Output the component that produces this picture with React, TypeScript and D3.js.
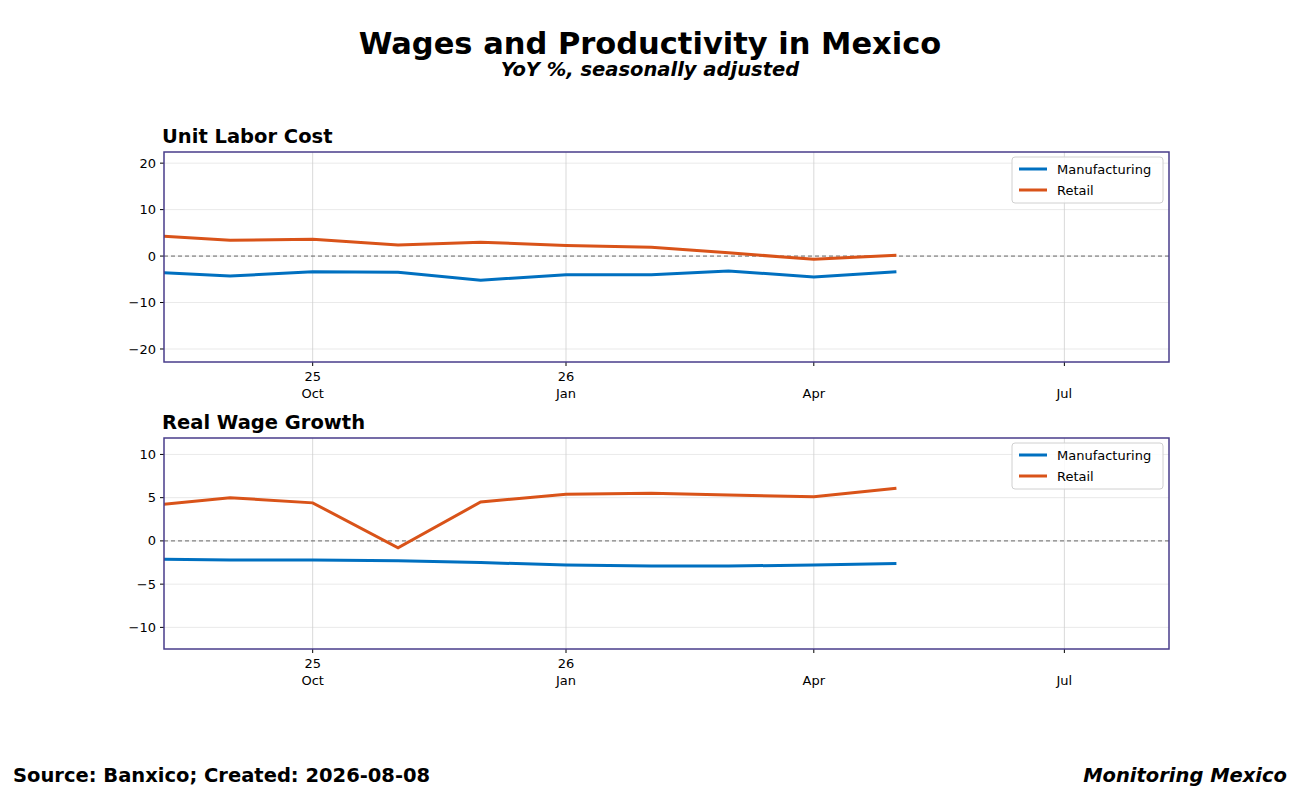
import React from "react";
import * as d3 from "d3";

// monthly observations (first of month)
const dates = ["2025-08-01", "2025-09-01", "2025-10-01", "2025-11-01", "2025-12-01", "2026-01-01", "2026-02-01", "2026-03-01", "2026-04-01", "2026-05-01"];
const ulcManufacturing = [-3.4, -4.3, -3.4, -3.5, -5.2, -4.0, -4.0, -3.2, -4.5, -3.4];
const ulcRetail = [4.5, 3.4, 3.6, 2.4, 3.0, 2.3, 1.9, 0.7, -0.7, 0.2];
const wageManufacturing = [-2.1, -2.2, -2.2, -2.3, -2.5, -2.8, -2.9, -2.9, -2.8, -2.6];
const wageRetail = [4.0, 5.0, 4.4, -0.8, 4.5, 5.4, 5.5, 5.3, 5.1, 6.1];
const xTicks = [
  { date: "2025-10-01", lines: ["25", "Oct"] },
  { date: "2026-01-01", lines: ["26", "Jan"] },
  { date: "2026-04-01", lines: ["Apr"] },
  { date: "2026-07-01", lines: ["Jul"] },
];

const parse = d3.timeParse("%Y-%m-%d");
const W = 1300, H = 810;
const left = 164, right = 1169;
const x = d3.scaleTime().domain([parse("2025-08-08")!, parse("2026-08-08")!]).range([left, right]);
const BLUE = "#0070C0", ORANGE = "#D95319";
const FONT = "DejaVu Sans, sans-serif";

function Panel({ id, title, top, bottom, domain, yTicks, manu, retail }: any) {
  const y = d3.scaleLinear().domain(domain).range([bottom, top]);
  const line = d3.line<number>().x((_, i) => x(parse(dates[i])!)).y((d) => y(d));
  return (
    <g>
      <defs>
        <clipPath id={id}><rect x={left} y={top} width={right - left} height={bottom - top} /></clipPath>
      </defs>
      {yTicks.map((t: number) => (
        <g key={t}>
          <line x1={left} x2={right} y1={y(t)} y2={y(t)} stroke="#e3e3e3" strokeWidth={0.8} />
          <line x1={left - 4} x2={left} y1={y(t)} y2={y(t)} stroke="#000" />
          <text x={left - 8} y={y(t)} dy="0.35em" textAnchor="end" fontSize={13}>{t < 0 ? "\u2212" + Math.abs(t) : t}</text>
        </g>
      ))}
      {xTicks.map((t) => {
        const xp = x(parse(t.date)!);
        return (
          <g key={t.date}>
            <line x1={xp} x2={xp} y1={top} y2={bottom} stroke="#cfcfcf" strokeWidth={0.8} />
            <line x1={xp} x2={xp} y1={bottom} y2={bottom + 4} stroke="#000" />
            {t.lines.map((l, i) => (
              <text key={i} x={xp} y={bottom + 19 + (t.lines.length === 1 ? 17 : i * 17)} textAnchor="middle" fontSize={13}>{l}</text>
            ))}
          </g>
        );
      })}
      <line x1={left} x2={right} y1={y(0)} y2={y(0)} stroke="#666" strokeDasharray="4,3" strokeWidth={1} />
      <g clipPath={`url(#${id})`}>
        <path d={line(manu)!} fill="none" stroke={BLUE} strokeWidth={3} />
        <path d={line(retail)!} fill="none" stroke={ORANGE} strokeWidth={3} />
      </g>
      <rect x={left} y={top} width={right - left} height={bottom - top} fill="none" stroke="#483d8b" strokeWidth={1.5} />
      <text x={162} y={top - 9} fontSize={19.5} fontWeight="bold">{title}</text>
      <g transform={`translate(1012,${top + 5})`}>
        <rect width={151} height={46} rx={3} fill="#fff" fillOpacity={0.85} stroke="#d0d0d0" />
        <line x1={7} x2={35} y1={12} y2={12} stroke={BLUE} strokeWidth={3} />
        <text x={45} y={12} dy="0.35em" fontSize={13}>Manufacturing</text>
        <line x1={7} x2={35} y1={33} y2={33} stroke={ORANGE} strokeWidth={3} />
        <text x={45} y={33} dy="0.35em" fontSize={13}>Retail</text>
      </g>
    </g>
  );
}

export default function App() {
  return (
    <svg width={W} height={H} style={{ display: "block", margin: -8, background: "#fff", fontFamily: FONT }}>
      <text x={650} y={54} textAnchor="middle" fontSize={30.5} fontWeight="bold">Wages and Productivity in Mexico</text>
      <text x={650} y={76} textAnchor="middle" fontSize={19.5} fontWeight="bold" fontStyle="italic">YoY %, seasonally adjusted</text>
      <Panel id="c1" title="Unit Labor Cost" top={152} bottom={362} domain={[-22.8, 22.4]} yTicks={[-20, -10, 0, 10, 20]} manu={ulcManufacturing} retail={ulcRetail} />
      <Panel id="c2" title="Real Wage Growth" top={438} bottom={649} domain={[-12.5, 11.9]} yTicks={[-10, -5, 0, 5, 10]} manu={wageManufacturing} retail={wageRetail} />
      <text x={13} y={782} fontSize={19.5} fontWeight="bold">Source: Banxico; Created: 2026-08-08</text>
      <text x={1287} y={782} textAnchor="end" fontSize={19.5} fontWeight="bold" fontStyle="italic">Monitoring Mexico</text>
    </svg>
  );
}
